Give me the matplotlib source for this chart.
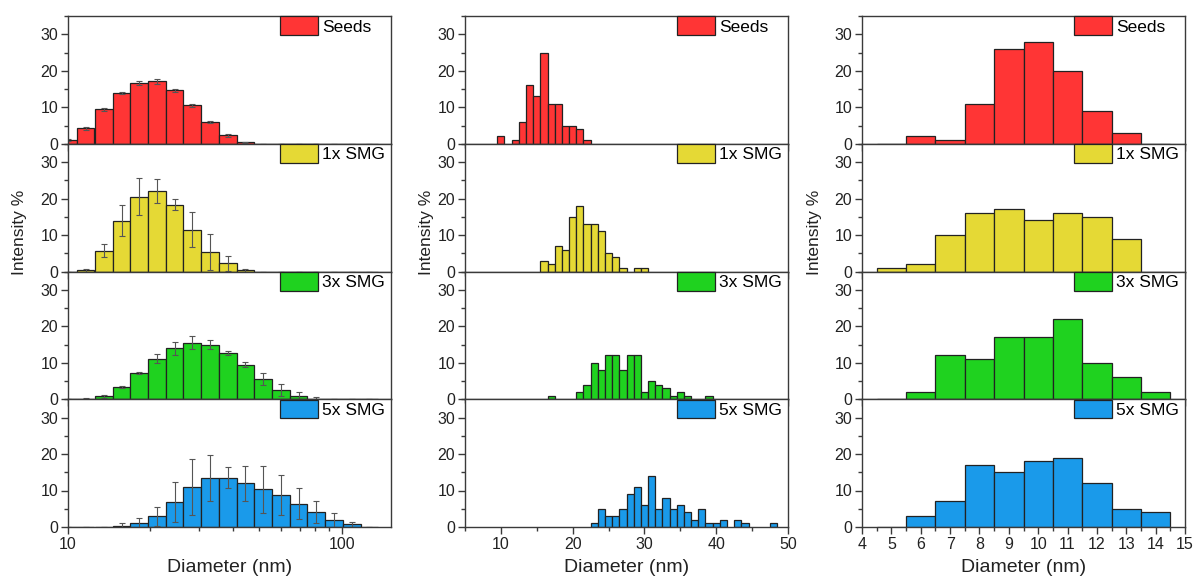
import matplotlib
matplotlib.use("Agg")
import matplotlib.pyplot as plt
from matplotlib.ticker import MultipleLocator, LogLocator, NullFormatter, FixedLocator
import numpy as np

plt.rcParams["font.family"] = ["Liberation Sans", "DejaVu Sans"]

labels = ["Seeds", "1x SMG", "3x SMG", "5x SMG"]
colors = ["#FF3535", "#E5D935", "#1FD21F", "#1A9AEA"]

# --- left column: log-spaced DLS bins (nm), with error bars
left_d = [10.0, 11.6, 13.5, 15.7, 18.2, 21.1, 24.5, 28.4, 33.0, 38.3,
          44.4, 51.6, 59.8, 69.5, 80.6, 93.6, 108.6, 126.0]
left_seeds = [1.0, 4.3, 9.4, 13.9, 16.7, 17.1, 14.7, 10.5, 6.0, 2.3,
              0.4, 0, 0, 0, 0, 0, 0, 0]
left_seeds_err = [0.3, 0.4, 0.3, 0.4, 0.5, 0.6, 0.4, 0.3, 0.3, 0.4,
                  0.2, 0, 0, 0, 0, 0, 0, 0]
left_1x = [0, 0.3, 5.7, 13.9, 20.5, 22.1, 18.3, 11.5, 5.4, 2.2,
           0.3, 0, 0, 0, 0, 0, 0, 0]
left_1x_err = [0, 0.3, 1.7, 4.2, 5.0, 3.2, 1.5, 4.8, 5.0, 2.1,
               0.3, 0, 0, 0, 0, 0, 0, 0]
left_3x = [0, 0.2, 0.8, 3.4, 7.2, 11.1, 14.0, 15.5, 15.0, 12.6,
           9.4, 5.5, 2.6, 1.0, 0.2, 0.1, 0, 0]
left_3x_err = [0, 0.1, 0.5, 0.3, 0.3, 1.3, 1.8, 1.7, 1.3, 0.5,
               0.7, 1.6, 1.6, 1.0, 0.3, 0, 0, 0]
left_5x = [0, 0, 0.05, 0.4, 1.1, 2.9, 6.8, 10.9, 13.4, 13.5,
           12.0, 10.3, 8.8, 6.4, 4.1, 1.9, 0.8, 0.1]
left_5x_err = [0, 0, 0, 0.8, 1.3, 2.5, 5.5, 7.6, 6.3, 2.9,
               4.8, 6.4, 5.4, 4.3, 3.1, 2.0, 0.7, 0]

# --- middle column: 1 nm bins
mid_seeds_d = [10, 12, 13, 14, 15, 16, 17, 18, 19, 20, 21, 22]
mid_seeds = [2, 1, 6, 16, 13, 25, 11, 11, 5, 5, 4, 1]
mid_1x_d = [16, 17, 18, 19, 20, 21, 22, 23, 24, 25, 26, 27, 29, 30]
mid_1x = [3, 2, 7, 6, 15, 18, 13, 13, 11, 5, 4, 1, 1, 1]
mid_3x_d = [17, 21, 22, 23, 24, 25, 26, 27, 28, 29, 30, 31, 32, 33, 34, 35, 36, 39]
mid_3x = [1, 2, 4, 10, 8, 12, 12, 8, 12, 12, 2, 5, 4, 3, 1, 2, 1, 1]
mid_5x_d = [23, 24, 25, 26, 27, 28, 29, 30, 31, 32, 33, 34, 35, 36, 37, 38,
            39, 40, 41, 43, 44, 48]
mid_5x = [1, 5, 3, 3, 5, 9, 11, 6, 14, 5, 8, 5, 6, 4, 2, 5, 1, 1, 2, 2, 1, 1]

# --- right column: 1 nm bins
right_d = [5, 6, 7, 8, 9, 10, 11, 12, 13, 14]
right_seeds = [0, 2, 1, 11, 26, 28, 20, 9, 3, 0]
right_1x = [1, 2, 10, 16, 17, 14, 16, 15, 9, 0]
right_3x = [0, 2, 12, 11, 17, 17, 22, 10, 6, 2]
right_5x = [0, 3, 7, 17, 15, 18, 19, 12, 5, 4]

W, H = 1196, 581
fig = plt.figure(figsize=(W / 100, H / 100), dpi=100)

col_left = [68, 465, 862]
col_w = 323
ylab_off = [48, 38, 47]
top_px, bot_px = 16, 527
row_h = (bot_px - top_px) / 4

spine_col = "#3a3a3a"


def make_axes(col):
    axes = []
    for r in range(4):
        y0 = H - (top_px + (r + 1) * row_h)
        ax = fig.add_axes([col_left[col] / W, y0 / H, col_w / W, row_h / H])
        ax.set_ylim(0, 35)
        ax.yaxis.set_major_locator(MultipleLocator(10))
        ax.yaxis.set_minor_locator(MultipleLocator(5))
        for s in ax.spines.values():
            s.set_color(spine_col)
            s.set_linewidth(1.0)
        ax.tick_params(which="both", direction="out", color=spine_col,
                       labelsize=11.5, labelcolor="#222222",
                       top=False, right=False, pad=2)
        ax.tick_params(which="major", length=5, width=1)
        ax.tick_params(which="minor", length=3, width=1)
        if r < 3:
            ax.tick_params(axis="x", labelbottom=False)
        axes.append(ax)
    return axes


def add_legend(ax):
    ax.legend(loc="upper left", bbox_to_anchor=(0.645, 1.025), frameon=False,
              fontsize=12.5, handlelength=2.2, handleheight=1.3,
              handletextpad=0.25, borderaxespad=0.0, borderpad=0.2)


bar_kw = dict(edgecolor="#222222", linewidth=0.9)
err_kw = dict(fmt="none", ecolor="#555555", elinewidth=0.8, capsize=2.5,
              capthick=0.8)

# left column
axL = make_axes(0)
ratio = 10 ** 0.0322
left_sets = [(left_seeds, left_seeds_err), (left_1x, left_1x_err),
             (left_3x, left_3x_err), (left_5x, left_5x_err)]
d = np.array(left_d)
for ax, (vals, errs), lab, c in zip(axL, left_sets, labels, colors):
    ax.set_xscale("log")
    ax.bar(d / ratio, vals, width=d * ratio - d / ratio, align="edge",
           color=c, label=lab, **bar_kw)
    ax.errorbar(d, vals, yerr=errs, **err_kw)
    ax.set_xlim(10, 151)
    ax.xaxis.set_major_locator(FixedLocator([10, 100]))
    ax.xaxis.set_minor_locator(LogLocator(base=10, subs=np.arange(2, 10)))
    ax.xaxis.set_minor_formatter(NullFormatter())
    ax.set_xticklabels(["10", "100"] if ax is axL[3] else [])
    add_legend(ax)

# middle column
axM = make_axes(1)
mid_sets = [(mid_seeds_d, mid_seeds), (mid_1x_d, mid_1x),
            (mid_3x_d, mid_3x), (mid_5x_d, mid_5x)]
for ax, (xs, vals), lab, c in zip(axM, mid_sets, labels, colors):
    ax.bar(xs, vals, width=1.0, color=c, label=lab, **bar_kw)
    ax.set_xlim(5, 50)
    ax.xaxis.set_major_locator(MultipleLocator(10))
    ax.xaxis.set_minor_locator(MultipleLocator(5))
    add_legend(ax)

# right column
axR = make_axes(2)
right_sets = [right_seeds, right_1x, right_3x, right_5x]
for ax, vals, lab, c in zip(axR, right_sets, labels, colors):
    ax.bar(right_d, vals, width=1.0, color=c, label=lab, **bar_kw)
    ax.set_xlim(4, 15)
    ax.xaxis.set_major_locator(MultipleLocator(1))
    ax.xaxis.set_minor_locator(MultipleLocator(0.5))
    add_legend(ax)

for col in range(3):
    cx = (col_left[col] + col_w / 2) / W
    fig.text(cx, 0.008, "Diameter (nm)", ha="center", va="bottom",
             fontsize=14, color="#222222")
    lx = (col_left[col] - ylab_off[col]) / W
    fig.text(lx, 1 - 232 / H, "Intensity %", rotation=90, ha="center",
             va="center", fontsize=12.5, color="#222222")

fig.savefig("out.png", dpi=100)
